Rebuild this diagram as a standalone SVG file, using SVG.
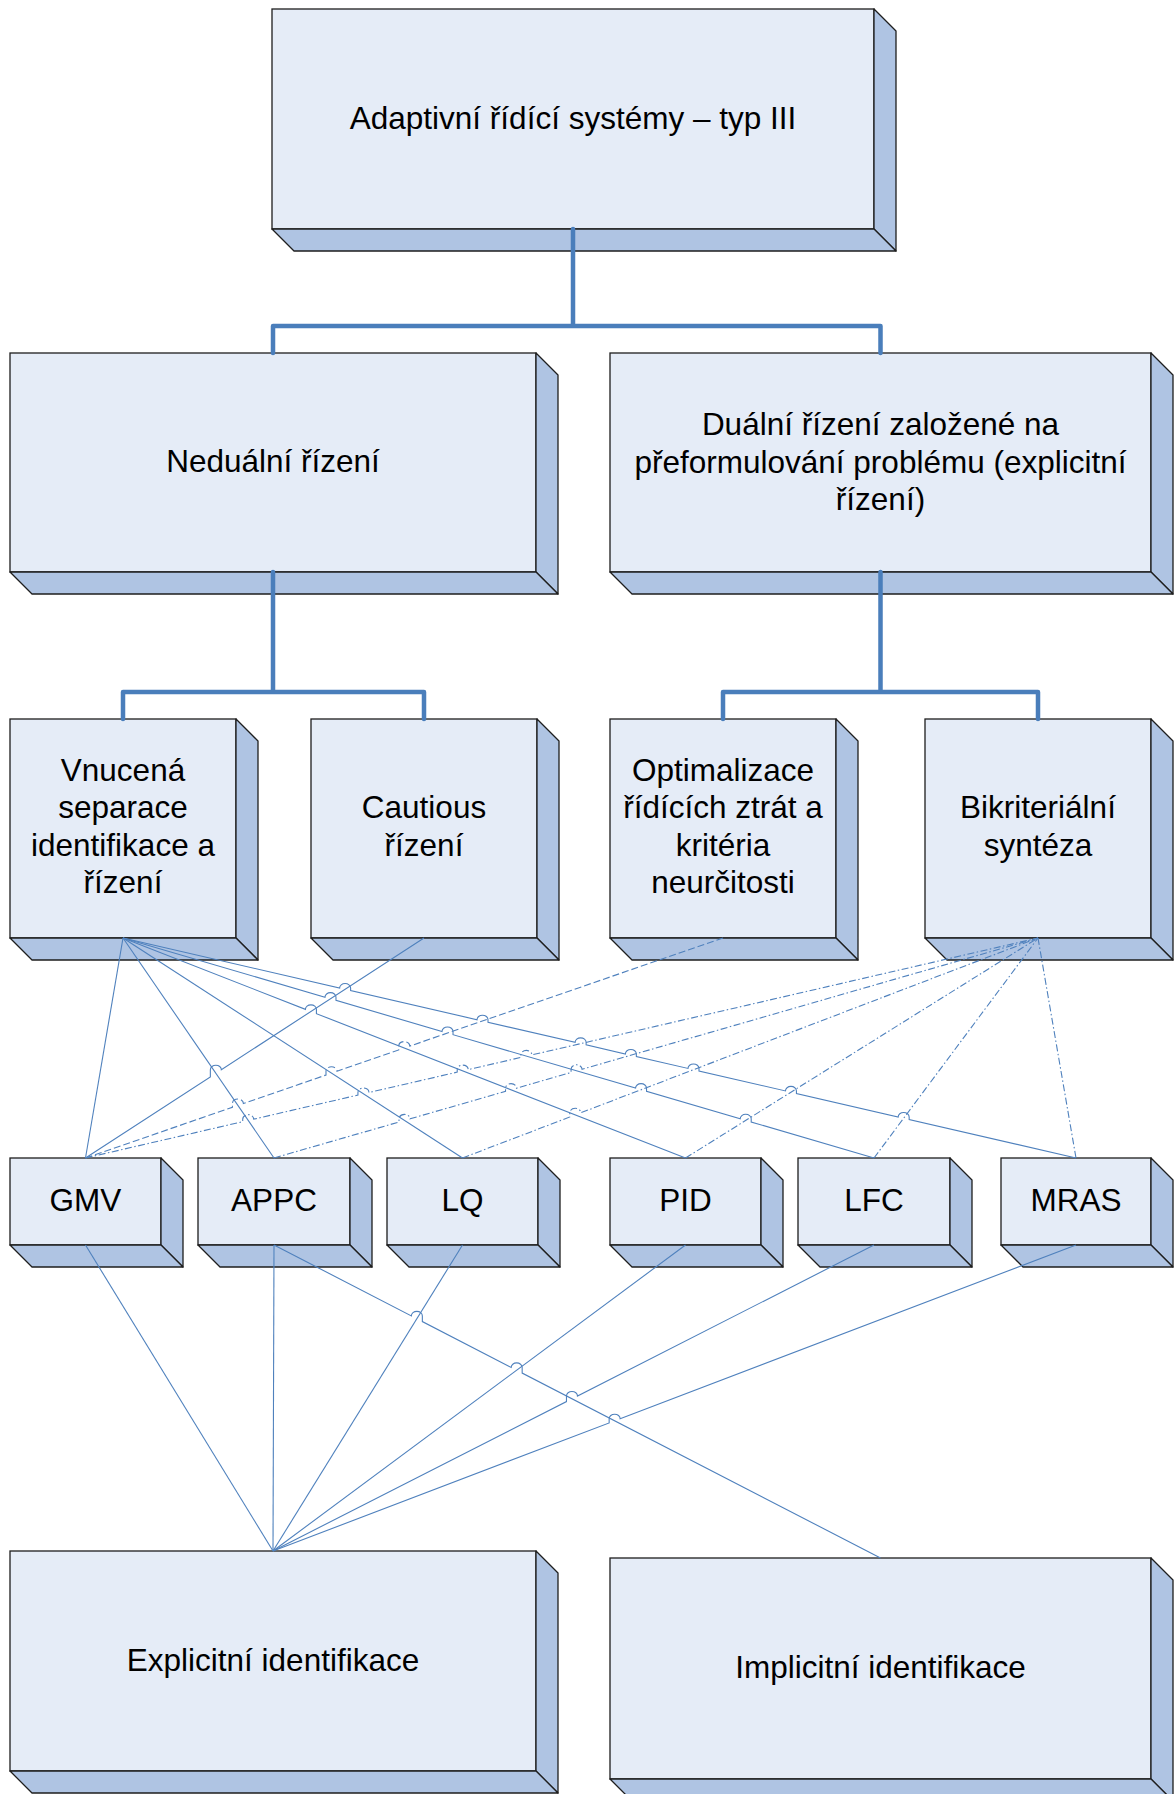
<svg xmlns="http://www.w3.org/2000/svg" width="1174" height="1794" viewBox="0 0 1174 1794">
  <style>
    .front { fill: #e5ecf7; stroke: #1e1e1e; stroke-width: 1.3; }
    .side { fill: #afc4e3; stroke: #1e1e1e; stroke-width: 1.3; stroke-linejoin: round; }
    .label { font-family: "Liberation Sans", Arial, sans-serif; font-size: 31.5px; fill: #000; text-anchor: middle; }
    .trunk { fill: none; stroke: #4a7ebb; stroke-width: 4.5; stroke-linecap: round; stroke-linejoin: round; }
    .link { fill: none; stroke: #4f81bd; stroke-width: 1.1; }
    .dash { stroke-dasharray: 7 3; }
    .dashdot { stroke-dasharray: 7 2.5 1.5 2.5; }
  </style>
  <rect width="1174" height="1794" fill="#ffffff"/>

  <!-- 3D boxes: front face, right face, bottom face (depth 22) -->
  <g id="node-root">
    <rect class="front" x="272" y="9" width="602" height="220"/>
    <polygon class="side" points="874,9 896,31 896,251 874,229"/>
    <polygon class="side" points="272,229 874,229 896,251 294,251"/>
    <text class="label" x="573" y="129">Adaptivní řídící systémy – typ III</text>
  </g>

  <g id="node-nondual">
    <rect class="front" x="10" y="353" width="526" height="219"/>
    <polygon class="side" points="536,353 558,375 558,594 536,572"/>
    <polygon class="side" points="10,572 536,572 558,594 32,594"/>
    <text class="label" x="273" y="472">Neduální řízení</text>
  </g>

  <g id="node-dual">
    <rect class="front" x="610" y="353" width="541" height="219"/>
    <polygon class="side" points="1151,353 1173,375 1173,594 1151,572"/>
    <polygon class="side" points="610,572 1151,572 1173,594 632,594"/>
    <text class="label" x="880.5" y="435.2">Duální řízení založené na</text>
    <text class="label" x="880.5" y="472.5">přeformulování problému (explicitní</text>
    <text class="label" x="880.5" y="509.8">řízení)</text>
  </g>

  <g id="node-separation">
    <rect class="front" x="10" y="719" width="226" height="219"/>
    <polygon class="side" points="236,719 258,741 258,960 236,938"/>
    <polygon class="side" points="10,938 236,938 258,960 32,960"/>
    <text class="label" x="123" y="781">Vnucená</text>
    <text class="label" x="123" y="818.3">separace</text>
    <text class="label" x="123" y="855.6">identifikace a</text>
    <text class="label" x="123" y="892.9">řízení</text>
  </g>

  <g id="node-cautious">
    <rect class="front" x="311" y="719" width="226" height="219"/>
    <polygon class="side" points="537,719 559,741 559,960 537,938"/>
    <polygon class="side" points="311,938 537,938 559,960 333,960"/>
    <text class="label" x="424" y="818.3">Cautious</text>
    <text class="label" x="424" y="855.6">řízení</text>
  </g>

  <g id="node-optimization">
    <rect class="front" x="610" y="719" width="226" height="219"/>
    <polygon class="side" points="836,719 858,741 858,960 836,938"/>
    <polygon class="side" points="610,938 836,938 858,960 632,960"/>
    <text class="label" x="723" y="781">Optimalizace</text>
    <text class="label" x="723" y="818.3">řídících ztrát a</text>
    <text class="label" x="723" y="855.6">kritéria</text>
    <text class="label" x="723" y="892.9">neurčitosti</text>
  </g>

  <g id="node-bicriterial">
    <rect class="front" x="925" y="719" width="226" height="219"/>
    <polygon class="side" points="1151,719 1173,741 1173,960 1151,938"/>
    <polygon class="side" points="925,938 1151,938 1173,960 947,960"/>
    <text class="label" x="1038" y="818.3">Bikriteriální</text>
    <text class="label" x="1038" y="855.6">syntéza</text>
  </g>

  <g id="node-gmv">
    <rect class="front" x="10" y="1158" width="151" height="87"/>
    <polygon class="side" points="161,1158 183,1180 183,1267 161,1245"/>
    <polygon class="side" points="10,1245 161,1245 183,1267 32,1267"/>
    <text class="label" x="85.5" y="1211">GMV</text>
  </g>

  <g id="node-appc">
    <rect class="front" x="198" y="1158" width="152" height="87"/>
    <polygon class="side" points="350,1158 372,1180 372,1267 350,1245"/>
    <polygon class="side" points="198,1245 350,1245 372,1267 220,1267"/>
    <text class="label" x="274" y="1211">APPC</text>
  </g>

  <g id="node-lq">
    <rect class="front" x="387" y="1158" width="151" height="87"/>
    <polygon class="side" points="538,1158 560,1180 560,1267 538,1245"/>
    <polygon class="side" points="387,1245 538,1245 560,1267 409,1267"/>
    <text class="label" x="462.5" y="1211">LQ</text>
  </g>

  <g id="node-pid">
    <rect class="front" x="610" y="1158" width="151" height="87"/>
    <polygon class="side" points="761,1158 783,1180 783,1267 761,1245"/>
    <polygon class="side" points="610,1245 761,1245 783,1267 632,1267"/>
    <text class="label" x="685.5" y="1211">PID</text>
  </g>

  <g id="node-lfc">
    <rect class="front" x="798" y="1158" width="152" height="87"/>
    <polygon class="side" points="950,1158 972,1180 972,1267 950,1245"/>
    <polygon class="side" points="798,1245 950,1245 972,1267 820,1267"/>
    <text class="label" x="874" y="1211">LFC</text>
  </g>

  <g id="node-mras">
    <rect class="front" x="1001" y="1158" width="150" height="87"/>
    <polygon class="side" points="1151,1158 1173,1180 1173,1267 1151,1245"/>
    <polygon class="side" points="1001,1245 1151,1245 1173,1267 1023,1267"/>
    <text class="label" x="1076" y="1211">MRAS</text>
  </g>

  <g id="node-explicit">
    <rect class="front" x="10" y="1551" width="526" height="220"/>
    <polygon class="side" points="536,1551 558,1573 558,1793 536,1771"/>
    <polygon class="side" points="10,1771 536,1771 558,1793 32,1793"/>
    <text class="label" x="273" y="1671">Explicitní identifikace</text>
  </g>

  <g id="node-implicit">
    <rect class="front" x="610" y="1558" width="541" height="221"/>
    <polygon class="side" points="1151,1558 1173,1580 1173,1801 1151,1779"/>
    <polygon class="side" points="610,1779 1151,1779 1173,1801 632,1801"/>
    <text class="label" x="880.5" y="1678">Implicitní identifikace</text>
  </g>

  <g id="connectors">
    <!-- hierarchy trunks -->
    <path class="trunk" d="M 273 353 V 326 H 880.5 V 353 M 573 229 V 326"/>
    <path class="trunk" d="M 123 719 V 692 H 424 V 719 M 273 572 V 692"/>
    <path class="trunk" d="M 723 719 V 692 H 1038 V 719 M 880.5 572 V 692"/>

    <!-- forced separation -> methods (solid) -->
    <path class="link" d="M 123 938 L 85.5 1158"/>
    <path class="link" d="M 123 938 L 274 1158"/>
    <path class="link" d="M 123 938 L 462.5 1158"/>
    <path class="link" d="M 123 938 L 305.42 1009.35 A 5.5 4.5 0 0 1 316.42 1009.35 L 316.42 1013.65 L 685.5 1158"/>
    <path class="link" d="M 123 938 L 324.98 997.17 A 5.5 4.5 0 0 1 335.98 997.17 L 335.98 1000.39 L 442.02 1031.46 A 5.5 4.5 0 0 1 453.02 1031.46 L 453.02 1034.68 L 635.53 1088.14 A 5.5 4.5 0 0 1 646.53 1088.14 L 646.53 1091.36 L 740.21 1118.81 A 5.5 4.5 0 0 1 751.21 1118.81 L 751.21 1122.03 L 874 1158"/>
    <path class="link" d="M 123 938 L 339.61 988 A 5.5 4.5 0 0 1 350.61 988 L 350.61 990.54 L 477.01 1019.72 A 5.5 4.5 0 0 1 488.01 1019.72 L 488.01 1022.26 L 575.12 1042.37 A 5.5 4.5 0 0 1 586.12 1042.37 L 586.12 1044.91 L 625.36 1053.97 A 5.5 4.5 0 0 1 636.36 1053.97 L 636.36 1056.51 L 687.99 1068.43 A 5.5 4.5 0 0 1 698.99 1068.43 L 698.99 1070.97 L 785.44 1090.92 A 5.5 4.5 0 0 1 796.44 1090.92 L 796.44 1093.46 L 898.16 1116.95 A 5.5 4.5 0 0 1 909.16 1116.95 L 909.16 1119.49 L 1076 1158"/>

    <!-- cautious -> GMV (solid) -->
    <path class="link" d="M 85.5 1158 L 210.35 1076.85 L 210.35 1069.71 A 5.5 4.5 0 0 1 221.35 1069.71 L 424 938"/>

    <!-- optimization -> GMV (dashed) -->
    <path class="link dash" d="M 85.5 1158 L 232.4 1107.31 L 232.4 1103.51 A 5.5 4.5 0 0 1 243.4 1103.51 L 325.99 1075.01 L 325.99 1071.21 A 5.5 4.5 0 0 1 336.99 1071.21 L 398.75 1049.9 L 398.75 1046.1 A 5.5 4.5 0 0 1 409.75 1046.1 L 723 938"/>

    <!-- bicriterial -> methods (dash-dot) -->
    <path class="link dashdot" d="M 85.5 1158 L 242.71 1121.69 L 242.71 1119.15 A 5.5 4.5 0 0 1 253.71 1119.15 L 357.93 1095.07 L 357.93 1092.53 A 5.5 4.5 0 0 1 368.93 1092.53 L 457.23 1072.14 L 457.23 1069.6 A 5.5 4.5 0 0 1 468.23 1069.6 L 520.88 1057.44 L 520.88 1054.9 A 5.5 4.5 0 0 1 531.88 1054.9 L 1038 938"/>
    <path class="link dashdot" d="M 274 1158 L 399.01 1122 L 399.01 1118.84 A 5.5 4.5 0 0 1 410.01 1118.84 L 505.51 1091.33 L 505.51 1088.17 A 5.5 4.5 0 0 1 516.51 1088.17 L 571.08 1072.45 L 571.08 1069.29 A 5.5 4.5 0 0 1 582.08 1069.29 L 1038 938"/>
    <path class="link dashdot" d="M 462.5 1158 L 569.77 1116.99 L 569.77 1112.79 A 5.5 4.5 0 0 1 580.77 1112.79 L 1038 938"/>
    <path class="link dashdot" d="M 685.5 1158 L 1038 938"/>
    <path class="link dashdot" d="M 874 1158 L 1038 938"/>
    <path class="link dashdot" d="M 1038 938 L 1076 1158"/>

    <!-- methods -> explicit identification -->
    <path class="link" d="M 85.5 1245 L 273 1551"/>
    <path class="link" d="M 274 1245 L 273 1551"/>
    <path class="link" d="M 462.5 1245 L 273 1551"/>
    <path class="link" d="M 685.5 1245 L 273 1551"/>
    <path class="link" d="M 273 1551 L 566.47 1401.58 L 566.47 1395.98 A 5.5 4.5 0 0 1 577.47 1395.98 L 874 1245"/>
    <path class="link" d="M 273 1551 L 609.16 1422.91 L 609.16 1418.71 A 5.5 4.5 0 0 1 620.16 1418.71 L 1076 1245"/>

    <!-- APPC -> implicit identification -->
    <path class="link" d="M 274 1245 L 411.35 1315.88 A 5.5 4.5 0 0 1 422.35 1315.88 L 422.35 1321.56 L 511.17 1367.4 A 5.5 4.5 0 0 1 522.17 1367.4 L 522.17 1373.08 L 880.5 1558"/>
  </g>
</svg>
